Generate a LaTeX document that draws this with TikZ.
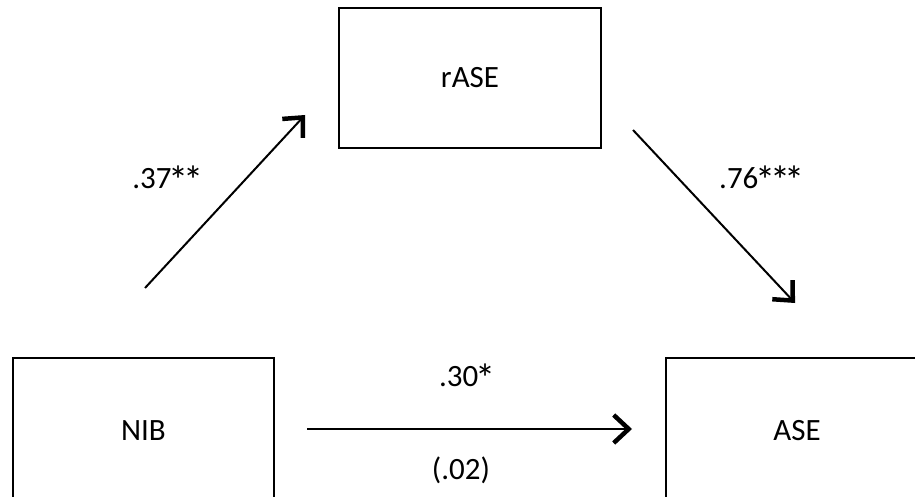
\documentclass[tikz,border=0pt]{standalone}
\usepackage{fontspec}
\usepackage{graphicx}
\setmainfont{Carlito}
\usetikzlibrary{arrows.meta}
\newcommand{\bast}{\makebox[0.47em]{\raisebox{-0.2em}{\scalebox{1.3}{*}}}}
\begin{document}
\begin{tikzpicture}[x=1pt,y=-1pt,
  box/.style={draw=black,line width=1.8pt,rectangle,inner sep=0pt,font=\fontsize{31}{37}\selectfont},
  lbl/.style={inner sep=0pt,font=\fontsize{31}{37}\selectfont},
  conn/.style={line width=2pt,-{Straight Barb[length=15pt,width=28pt,line width=4.5pt]}}]
\clip (0,0) rectangle (915,497);
\fill[white] (0,0) rectangle (915,497);
\node[box,minimum width=262pt,minimum height=140pt] (rase) at (470,78) {rASE};
\node[box,minimum width=261pt,minimum height=145pt] (nib) at (143.5,430.5) {NIB};
\node[box,minimum width=262pt,minimum height=145pt] (ase) at (797,430.5) {ASE};
\coordinate (a1s) at (145,288);
\coordinate (a1e) at (305,115);
\coordinate (a2s) at (633,130);
\coordinate (a2e) at (795,303);
\coordinate (a3s) at (307,429);
\coordinate (a3e) at (632,429);
\draw[conn] (a1s) -- (a1e);
\draw[conn] (a2s) -- (a2e);
\draw[conn] (a3s) -- (a3e);
\node[lbl,anchor=east] (l1) at (201,180) {.37\bast\bast};
\node[lbl,anchor=west] (l2) at (719,180) {.76\bast\bast\bast};
\node[lbl] (l3) at (466,378) {.30\bast};
\node[lbl] (l4) at (461,470) {(.02)};
\end{tikzpicture}
\end{document}
